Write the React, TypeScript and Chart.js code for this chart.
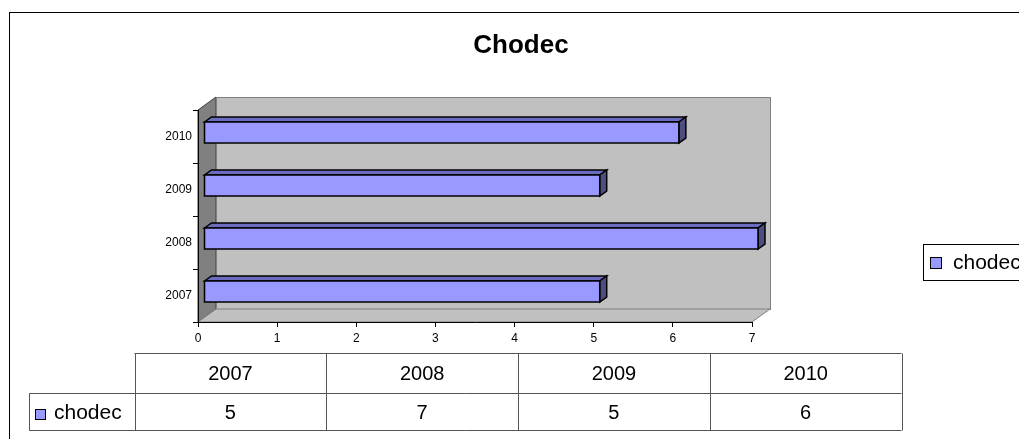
import React, { useEffect, useRef } from "react";
import { Chart, registerables } from "chart.js";

Chart.register(...registerables);

const chartTitle = "Chodec";
const seriesName = "chodec";
const categories = ["2007", "2008", "2009", "2010"];
const values = [5, 7, 5, 6];
const xMin = 0;
const xMax = 7;

const FONT = "'Liberation Sans', Arial, sans-serif";
const W = 1019;
const H = 439;

// 3D depth of the walls and of the bars
const WALL_DX = 18;
const WALL_DY = 13;
const BAR_OFF_X = 6;
const BAR_OFF_Y = 4;
const BAR_DX = 7;
const BAR_DY = 5;

const FRONT = "#9999FF";
const TOP = "#6B6BBF";
const SIDE = "#4D4D80";

const App: React.FC = () => {
  const ref = useRef<HTMLCanvasElement | null>(null);

  useEffect(() => {
    if (!ref.current) return;

    const decor = {
      id: "decor",
      beforeDraw(chart: any) {
        const ctx = chart.ctx as CanvasRenderingContext2D;
        ctx.save();
        ctx.fillStyle = "#fff";
        ctx.fillRect(0, 0, W, H);
        // outer frame
        ctx.strokeStyle = "#000";
        ctx.lineWidth = 1;
        ctx.strokeRect(9.5, 12.5, W + 20, H + 20);
        // title
        ctx.fillStyle = "#000";
        ctx.font = `bold 26px ${FONT}`;
        ctx.textAlign = "center";
        ctx.textBaseline = "middle";
        ctx.fillText(chartTitle, 521, 46);

        const xs = chart.scales.x;
        const ys = chart.scales.y;
        const x0 = xs.getPixelForValue(xMin);
        const x1 = xs.getPixelForValue(xMax);
        const top = ys.top;
        const bottom = ys.bottom;

        // left side wall
        ctx.beginPath();
        ctx.moveTo(x0, top);
        ctx.lineTo(x0 + WALL_DX, top - WALL_DY);
        ctx.lineTo(x0 + WALL_DX, bottom - WALL_DY);
        ctx.lineTo(x0, bottom);
        ctx.closePath();
        ctx.fillStyle = "#808080";
        ctx.fill();
        ctx.strokeStyle = "#404040";
        ctx.stroke();

        // back wall
        ctx.fillStyle = "#C0C0C0";
        ctx.fillRect(x0 + WALL_DX, top - WALL_DY, x1 - x0, bottom - top);
        ctx.strokeStyle = "#808080";
        ctx.strokeRect(
          Math.round(x0 + WALL_DX) + 0.5,
          Math.round(top - WALL_DY) + 0.5,
          Math.round(x1 - x0),
          Math.round(bottom - top)
        );

        // floor
        ctx.beginPath();
        ctx.moveTo(x0, bottom);
        ctx.lineTo(x0 + WALL_DX, bottom - WALL_DY);
        ctx.lineTo(x1 + WALL_DX, bottom - WALL_DY);
        ctx.lineTo(x1, bottom);
        ctx.closePath();
        ctx.fillStyle = "#C0C0C0";
        ctx.fill();
        ctx.strokeStyle = "#808080";
        ctx.stroke();
        ctx.restore();
      },
      afterDatasetsDraw(chart: any) {
        const ctx = chart.ctx as CanvasRenderingContext2D;
        const meta = chart.getDatasetMeta(0);
        ctx.save();
        ctx.lineWidth = 1.5;
        ctx.strokeStyle = "#000";
        ctx.lineJoin = "miter";
        meta.data.forEach((el: any) => {
          const h = el.height;
          const fx0 = el.base + BAR_OFF_X;
          const fx1 = el.x + BAR_OFF_X;
          const fy0 = el.y - BAR_OFF_Y - h / 2;
          const fy1 = fy0 + h;
          // top face
          ctx.beginPath();
          ctx.moveTo(fx0, fy0);
          ctx.lineTo(fx0 + BAR_DX, fy0 - BAR_DY);
          ctx.lineTo(fx1 + BAR_DX, fy0 - BAR_DY);
          ctx.lineTo(fx1, fy0);
          ctx.closePath();
          ctx.fillStyle = TOP;
          ctx.fill();
          ctx.stroke();
          // side face
          ctx.beginPath();
          ctx.moveTo(fx1, fy0);
          ctx.lineTo(fx1 + BAR_DX, fy0 - BAR_DY);
          ctx.lineTo(fx1 + BAR_DX, fy1 - BAR_DY);
          ctx.lineTo(fx1, fy1);
          ctx.closePath();
          ctx.fillStyle = SIDE;
          ctx.fill();
          ctx.stroke();
          // front face
          ctx.beginPath();
          ctx.rect(fx0, fy0, fx1 - fx0, h);
          ctx.fillStyle = FRONT;
          ctx.fill();
          ctx.stroke();
        });
        ctx.restore();
      },
      afterDraw(chart: any) {
        const ctx = chart.ctx as CanvasRenderingContext2D;
        ctx.save();
        // data table
        const tLeft = 29.5;
        const cLeft = 134.5;
        const cRight = 901.5;
        const r0 = 353.5;
        const r1 = 393.5;
        const r2 = 430.5;
        const colW = (cRight - cLeft) / categories.length;
        ctx.strokeStyle = "#555";
        ctx.lineWidth = 1;
        ctx.beginPath();
        ctx.moveTo(cLeft, r0);
        ctx.lineTo(cRight, r0);
        ctx.moveTo(tLeft, r1);
        ctx.lineTo(cRight, r1);
        ctx.moveTo(tLeft, r2);
        ctx.lineTo(cRight, r2);
        ctx.moveTo(tLeft, r1);
        ctx.lineTo(tLeft, r2);
        for (let i = 0; i <= categories.length; i++) {
          const x = Math.round(cLeft + colW * i) + 0.5;
          ctx.moveTo(x, r0);
          ctx.lineTo(x, r2);
        }
        ctx.stroke();

        ctx.fillStyle = "#000";
        ctx.font = `20px ${FONT}`;
        ctx.textAlign = "center";
        ctx.textBaseline = "middle";
        categories.forEach((c, i) => {
          const cx = cLeft + colW * (i + 0.5);
          ctx.fillText(c, cx, (r0 + r1) / 2 + 1);
          ctx.fillText(String(values[i]), cx, (r1 + r2) / 2 + 1);
        });
        // series label with key
        ctx.fillStyle = FRONT;
        ctx.fillRect(35.5, 409.5, 10, 10);
        ctx.strokeStyle = "#000";
        ctx.strokeRect(35.5, 409.5, 10, 10);
        ctx.fillStyle = "#000";
        ctx.textAlign = "left";
        ctx.font = `21px ${FONT}`;
        ctx.fillText(seriesName, 54, (r1 + r2) / 2 + 1);

        // legend
        ctx.strokeStyle = "#000";
        ctx.strokeRect(923.5, 244.5, 140, 36);
        ctx.fillStyle = FRONT;
        ctx.fillRect(930.5, 257.5, 11, 11);
        ctx.strokeRect(930.5, 257.5, 11, 11);
        ctx.fillStyle = "#000";
        ctx.fillText(seriesName, 953, 263);
        ctx.restore();
      },
    };

    const chart = new Chart(ref.current, {
      type: "bar",
      data: {
        labels: categories,
        datasets: [
          {
            label: seriesName,
            data: values,
            backgroundColor: "rgba(0,0,0,0)",
            borderWidth: 0,
            barThickness: 21,
          },
        ],
      },
      options: {
        indexAxis: "y",
        responsive: false,
        animation: false,
        devicePixelRatio: 1,
        layout: { padding: { left: 138, top: 110, right: 267, bottom: 87 } },
        plugins: {
          legend: { display: false },
          title: { display: false },
          tooltip: { enabled: false },
        },
        scales: {
          x: {
            type: "linear",
            min: xMin,
            max: xMax,
            afterFit: (s: any) => {
              s.height = 30;
            },
            ticks: {
              stepSize: 1,
              color: "#000",
              padding: 4,
              font: { family: FONT, size: 12 },
            },
            grid: {
              drawOnChartArea: false,
              drawTicks: true,
              tickLength: 5,
              color: "#000",
            },
            border: { display: true, color: "#000", width: 1 },
          },
          y: {
            type: "category",
            reverse: true,
            afterFit: (s: any) => {
              s.width = 60;
            },
            ticks: {
              color: "#000",
              padding: 1,
              font: { family: FONT, size: 12 },
            },
            grid: {
              drawOnChartArea: false,
              drawTicks: true,
              tickLength: 5,
              color: "#000",
            },
            border: { display: true, color: "#000", width: 1 },
          },
        },
      },
      plugins: [decor],
    } as any);

    return () => chart.destroy();
  }, []);

  return (
    <div style={{ position: "absolute", left: 0, top: 0, width: W, height: H, overflow: "hidden" }}>
      <canvas ref={ref} width={W} height={H} style={{ display: "block", width: W, height: H }} />
    </div>
  );
};

export default App;
